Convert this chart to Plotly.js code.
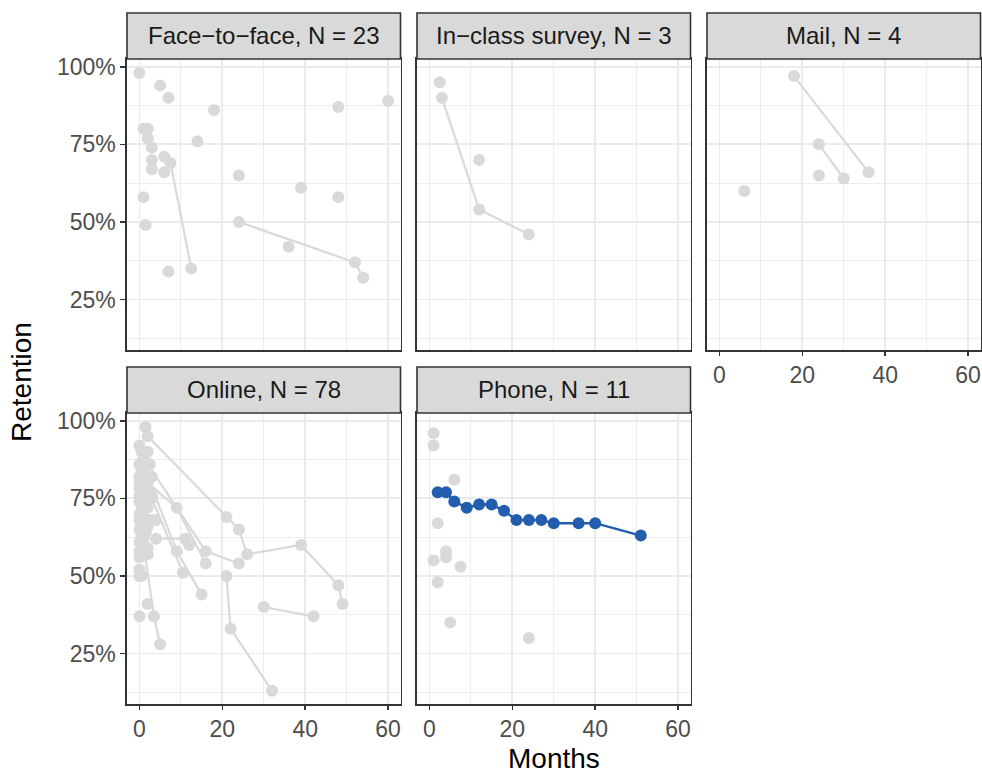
<!DOCTYPE html>
<html>
<head>
<meta charset="utf-8">
<script src="https://cdn.plot.ly/plotly-3.0.1.min.js"></script>
<style>html,body{margin:0;padding:0;background:#fff;}#chart{width:982px;height:773px;}</style>
</head>
<body>
<div id="chart"></div>
<script>
// ---------- DATA ----------
const facetTitles = ["Face\u2212to\u2212face, N = 23", "In\u2212class survey, N = 3", "Mail, N = 4", "Online, N = 78", "Phone, N = 11"];
const xTickVals = [0, 20, 40, 60];
const xTickText = ["0", "20", "40", "60"];
const yTickVals = [25, 50, 75, 100];
const yTickText = ["25%", "50%", "75%", "100%"];

// Face-to-face
const f2fMonths = [0, 5, 7, 18, 48, 60, 1, 2, 2, 3, 14, 3, 6, 7.5, 12.5, 3, 6, 24, 39, 48, 1, 1.5, 24, 52, 54, 36, 7];
const f2fRet    = [98, 94, 90, 86, 87, 89, 80, 80, 77, 74, 76, 70, 71, 69, 35, 67, 66, 65, 61, 58, 58, 49, 50, 37, 32, 42, 34];
const f2fStudy  = [1, 2, 3, 4, 5, 6, 7, 8, 9, 10, 11, 12, 13, 14, 14, 15, 16, 17, 18, 19, 20, 21, 22, 22, 22, 23, 24];

// In-class survey
const inclassMonths = [2.5, 3, 12, 24, 12];
const inclassRet    = [95, 90, 54, 46, 70];
const inclassStudy  = [1, 2, 2, 2, 3];

// Mail
const mailMonths = [18, 36, 24, 30, 24, 6];
const mailRet    = [97, 66, 75, 64, 65, 60];
const mailStudy  = [1, 1, 2, 2, 3, 4];

// Online
const onlineMonths = [2, 21, 24, 26, 39, 48, 49,
  1, 16, 24,
  2, 9, 16,
  4, 11, 12,
  2, 9, 15,
  3, 10.5,
  21, 22, 32,
  30, 42,
  1, 3.5, 5,
  1.5, 4, 2, 0, 0,
  0, 0.5, 1, 0, 0.5, 1, 2, 0, 1, 2, 0, 1, 3, 0, 1, 2, 0, 1, 2, 3, 0, 1, 0.5, 2, 0, 1, 0, 1, 2, 0, 0.5, 1, 0, 1, 2, 0, 1, 0, 2, 0, 0.5, 3, 2.5, 1.5];
const onlineRet = [95, 69, 65, 57, 60, 47, 41,
  88, 58, 54,
  80, 72, 54,
  62, 62, 60,
  82, 58, 44,
  75, 51,
  50, 33, 13,
  40, 37,
  60, 37, 28,
  98, 68, 41, 37, 50,
  92, 90, 88, 86, 84, 85, 90, 82, 82, 81, 80, 79, 82, 78, 77, 77, 76, 75, 75, 76, 74, 73, 71, 72, 70, 69, 68, 67, 66, 65, 63, 62, 61, 60, 59, 58, 57, 56, 57, 52, 50, 68, 86, 64];
const onlineStudy = [1, 1, 1, 1, 1, 1, 1,
  2, 2, 2,
  3, 3, 3,
  4, 4, 4,
  5, 5, 5,
  6, 6,
  7, 7, 7,
  8, 8,
  9, 9, 9,
  10, 11, 12, 13, 14,
  15, 16, 17, 18, 19, 20, 21, 22, 23, 24, 25, 26, 27, 28, 29, 30, 31, 32, 33, 34, 35, 36, 37, 38, 39, 40, 41, 42, 43, 44, 45, 46, 47, 48, 49, 50, 51, 52, 53, 54, 55, 56, 57, 58];

// Phone (grey studies)
const phoneMonths = [1, 1, 6, 2, 4, 4, 1, 7.5, 2, 5, 24];
const phoneRet    = [96, 92, 81, 67, 58, 56, 55, 53, 48, 35, 30];
const phoneStudy  = [1, 2, 3, 4, 5, 6, 7, 8, 9, 10, 11];

// Highlighted study (Phone)
const highlightMonths = [2, 4, 6, 9, 12, 15, 18, 21, 24, 27, 30, 36, 40, 51];
const highlightRet    = [77, 77, 74, 72, 73, 73, 71, 68, 68, 68, 67, 67, 67, 63];

// ---------- STYLE ----------
const GREY = "#D9D9D9";
const BLUE = "#225EAD";
const FONT = "Liberation Sans, Arial, Helvetica, sans-serif";
const TXT = 23;
const STRIP = 24;
const TITLE = 28;

function groupTraces(mx, ry, sid, xa, ya) {
  const order = [];
  const groups = {};
  sid.forEach((s, i) => {
    if (!groups[s]) { groups[s] = {x: [], y: []}; order.push(s); }
    groups[s].x.push(mx[i]);
    groups[s].y.push(ry[i]);
  });
  return order.map(s => ({
    type: "scatter", mode: "lines+markers",
    x: groups[s].x, y: groups[s].y, xaxis: xa, yaxis: ya,
    line: {color: GREY, width: 2.2},
    marker: {color: GREY, size: 12},
    hoverinfo: "x+y", showlegend: false
  }));
}

const traces = [].concat(
  groupTraces(f2fMonths, f2fRet, f2fStudy, "x", "y"),
  groupTraces(inclassMonths, inclassRet, inclassStudy, "x2", "y2"),
  groupTraces(mailMonths, mailRet, mailStudy, "x3", "y3"),
  groupTraces(onlineMonths, onlineRet, onlineStudy, "x4", "y4"),
  groupTraces(phoneMonths, phoneRet, phoneStudy, "x5", "y5"),
  [{
    type: "scatter", mode: "lines+markers",
    x: highlightMonths, y: highlightRet, xaxis: "x5", yaxis: "y5",
    line: {color: BLUE, width: 2.4},
    marker: {color: BLUE, size: 12},
    showlegend: false
  }]
);

const W = 982, H = 773;
const cols = [[127, 400.5], [417, 690.5], [707, 980.5]];
const rows = [[59, 350], [413, 704]];
const strips = [[13, 59], [367, 413]];
function xd(c) { return [cols[c][0] / W, cols[c][1] / W]; }
function yd(r) { return [1 - rows[r][1] / H, 1 - rows[r][0] / H]; }

function xaxis(c, r, labels) {
  return {
    domain: xd(c), anchor: ["y", "y2", "y3", "y4", "y5"][r * 3 + c],
    range: [-3, 63], tickmode: "array", tickvals: xTickVals, ticktext: xTickText,
    showticklabels: labels, ticks: labels ? "outside" : "", ticklen: 4, tickwidth: 1.5, tickcolor: "#333333",
    tickfont: {family: FONT, size: TXT, color: "#4D4D4D"},
    showgrid: true, gridcolor: "#EBEBEB", gridwidth: 1.8,
    minor: {tickmode: "array", tickvals: [10, 30, 50], showgrid: true, gridcolor: "#EBEBEB", gridwidth: 0.9, ticks: ""},
    showline: true, mirror: true, linecolor: "#333333", linewidth: 1.6,
    zeroline: false, fixedrange: true
  };
}
function yaxis(c, r, labels) {
  return {
    domain: yd(r), anchor: ["x", "x2", "x3", "x4", "x5"][r * 3 + c],
    range: [8.75, 102.5], tickmode: "array", tickvals: yTickVals, ticktext: yTickText,
    showticklabels: labels, ticks: labels ? "outside" : "", ticklen: 5, tickwidth: 1.5, tickcolor: "#333333",
    tickfont: {family: FONT, size: TXT, color: "#4D4D4D"},
    showgrid: true, gridcolor: "#EBEBEB", gridwidth: 1.8,
    minor: {tickmode: "array", tickvals: [12.5, 37.5, 62.5, 87.5], showgrid: true, gridcolor: "#EBEBEB", gridwidth: 0.9, ticks: ""},
    showline: true, mirror: true, linecolor: "#333333", linewidth: 1.6,
    zeroline: false, fixedrange: true
  };
}

const panels = [[0, 0], [1, 0], [2, 0], [0, 1], [1, 1]];
const shapes = [];
const annotations = [];
panels.forEach(([c, r], i) => {
  shapes.push({
    type: "rect", xref: "paper", yref: "paper",
    x0: cols[c][0] / W, x1: cols[c][1] / W,
    y0: 1 - strips[r][1] / H, y1: 1 - strips[r][0] / H,
    fillcolor: "#D9D9D9", line: {color: "#333333", width: 1.6}, layer: "above"
  });
  annotations.push({
    xref: "paper", yref: "paper",
    x: (cols[c][0] + cols[c][1]) / 2 / W, y: 1 - (strips[r][0] + strips[r][1]) / 2 / H,
    text: facetTitles[i], showarrow: false, xanchor: "center", yanchor: "middle",
    font: {family: FONT, size: STRIP, color: "#1A1A1A"}
  });
});
annotations.push({
  xref: "paper", yref: "paper", x: (127 + 980.5) / 2 / W, y: 0,
  text: "Months", showarrow: false, xanchor: "center", yanchor: "bottom", borderpad: 0, yshift: -2,
  font: {family: FONT, size: TITLE, color: "#000000"}
});
annotations.push({
  xref: "paper", yref: "paper", x: 22 / W, y: 1 - 382 / H,
  text: "Retention", showarrow: false, xanchor: "center", yanchor: "middle", textangle: -90,
  font: {family: FONT, size: TITLE, color: "#000000"}
});

const layout = {
  width: W, height: H,
  margin: {l: 0, r: 0, t: 0, b: 0},
  paper_bgcolor: "#FFFFFF", plot_bgcolor: "#FFFFFF",
  showlegend: false,
  font: {family: FONT},
  xaxis: xaxis(0, 0, false), yaxis: yaxis(0, 0, true),
  xaxis2: xaxis(1, 0, false), yaxis2: yaxis(1, 0, false),
  xaxis3: xaxis(2, 0, true), yaxis3: yaxis(2, 0, false),
  xaxis4: xaxis(0, 1, true), yaxis4: yaxis(0, 1, true),
  xaxis5: xaxis(1, 1, true), yaxis5: yaxis(1, 1, false),
  shapes: shapes, annotations: annotations
};

Plotly.newPlot("chart", traces, layout, {displayModeBar: false, staticPlot: true});
</script>
</body>
</html>
